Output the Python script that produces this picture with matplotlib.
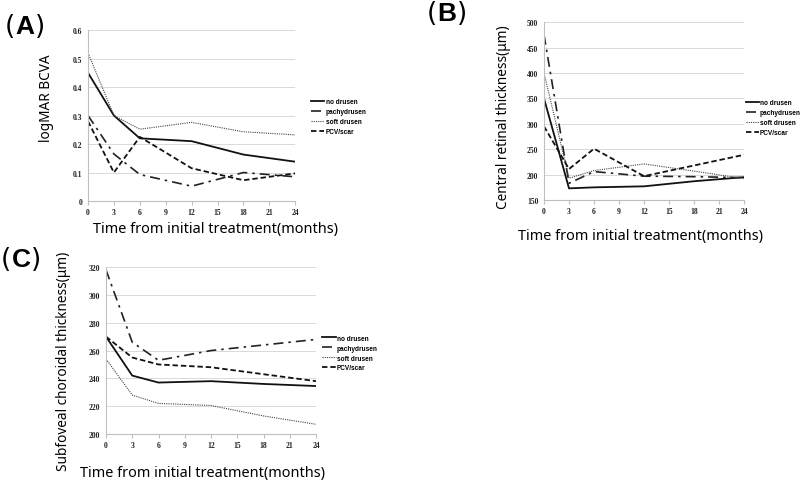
import numpy as np
import matplotlib
matplotlib.use('Agg')
import matplotlib.pyplot as plt

months = [0, 3, 6, 12, 18, 24]
groups = ['no drusen', 'pachydrusen', 'soft drusen', 'PCV/scar']

# (A) logMAR BCVA
bcva_no = [0.45, 0.30, 0.22, 0.21, 0.163, 0.138]
bcva_pachy = [0.30, 0.165, 0.093, 0.052, 0.100, 0.085]
bcva_soft = [0.52, 0.30, 0.252, 0.276, 0.243, 0.232]
bcva_pcv = [0.28, 0.10, 0.225, 0.115, 0.073, 0.097]

# (B) central retinal thickness
crt_no = [350, 173, 175, 177, 187, 195]
crt_pachy = [475, 183, 206, 197, 196, 194]
crt_soft = [400, 193, 208, 221, 207, 192]
crt_pcv = [295, 211, 251, 197, 218, 239]

# (C) subfoveal choroidal thickness
sct_no = [270, 242, 237, 238, 236, 234.5]
sct_pachy = [318, 266, 253, 260, 264, 268]
sct_soft = [254, 228, 222, 220.5, 213, 207]
sct_pcv = [270, 255, 250, 248, 243, 238]

styles = [
    dict(color='#111111', lw=1.3, ls='-'),
    dict(color='#222222', lw=1.2, dashes=[6, 3, 1.5, 3]),
    dict(color='#444444', lw=0.8, dashes=[1, 1]),
    dict(color='#111111', lw=1.3, dashes=[3, 1.6]),
]

fig = plt.figure(figsize=(8, 4.81), dpi=100)
lab_font = 'Noto Sans'
tick_font = 'Liberation Serif'


def panel(rect, series, ylim, yticks, ylabels, leg_xy):
    ax = fig.add_axes(rect)
    for vals, name, st in zip(series, groups, styles):
        ax.plot(months, vals, label=name, **st)
    ax.set_xlim(0, 24)
    ax.set_ylim(*ylim)
    ax.set_xticks(range(0, 25, 3))
    ax.set_yticks(yticks)
    ax.set_yticklabels(ylabels)
    ax.grid(axis='y', color='#d9d9d9', lw=0.7)
    ax.set_axisbelow(True)
    for s in ['top', 'right']:
        ax.spines[s].set_visible(False)
    for s in ['left', 'bottom']:
        ax.spines[s].set_color('#bfbfbf')
        ax.spines[s].set_linewidth(0.8)
    ax.tick_params(axis='x', length=3, color='#bfbfbf', pad=2)
    ax.tick_params(axis='y', length=0, pad=4)
    for t in ax.get_xticklabels() + ax.get_yticklabels():
        t.set_fontfamily(tick_font)
        t.set_fontweight('bold')
        t.set_fontsize(5.5)
        t.set_color('#222222')
    ax.legend(loc='upper left', bbox_to_anchor=leg_xy, bbox_transform=fig.transFigure,
              frameon=False, borderpad=0, handlelength=2.0, handletextpad=0.2,
              labelspacing=0.45, prop=dict(family='Liberation Sans', weight='bold', size=4.7))
    return ax


panel([0.11, 0.58, 0.259, 0.3555], [bcva_no, bcva_pachy, bcva_soft, bcva_pcv],
      (0, 0.6), np.arange(0, 0.61, 0.1), ['0', '0.1', '0.2', '0.3', '0.4', '0.5', '0.6'],
      (0.385, 0.80))
panel([0.68, 0.582, 0.25, 0.370], [crt_no, crt_pachy, crt_soft, crt_pcv],
      (150, 500), range(150, 501, 50), [str(v) for v in range(150, 501, 50)],
      (0.928, 0.798))
panel([0.1325, 0.0956, 0.2625, 0.347], [sct_no, sct_pachy, sct_soft, sct_pcv],
      (200, 320), range(200, 321, 20), [str(v) for v in range(200, 321, 20)],
      (0.399, 0.309))

xl = 'Time from initial treatment(months)'
fs = 10.4
fig.text(0.269, 0.522, xl, ha='center', va='center', family=lab_font, fontsize=fs)
fig.text(0.80, 0.509, xl, ha='center', va='center', family=lab_font, fontsize=fs)
fig.text(0.253, 0.015, xl, ha='center', va='center', family=lab_font, fontsize=fs)

fs_y = 9.8
fig.text(0.058, 0.796, 'logMAR BCVA', rotation=90, ha='center', va='center',
         family=lab_font, fontsize=fs_y)
fig.text(0.629, 0.757, 'Central retinal thickness(μm)', rotation=90, ha='center',
         va='center', family=lab_font, fontsize=fs_y)
fig.text(0.079, 0.248, 'Subfoveal choroidal thickness(μm)', rotation=90, ha='center',
         va='center', family=lab_font, fontsize=fs_y)

# panel letters: thin parentheses around a bold letter
for x, y, s in [(25, 27, 'A'), (447, 14, 'B'), (21, 260, 'C')]:
    fy = 1 - y / 481
    fig.text((x - 15) / 800, fy, '(', ha='center', va='center',
             family='DejaVu Sans', fontsize=19)
    fig.text(x / 800, fy, s, ha='center', va='center',
             family='Liberation Sans', fontsize=19, fontweight='bold')
    fig.text((x + 15) / 800, fy, ')', ha='center', va='center',
             family='DejaVu Sans', fontsize=19)

fig.savefig('out.png', dpi=100)
